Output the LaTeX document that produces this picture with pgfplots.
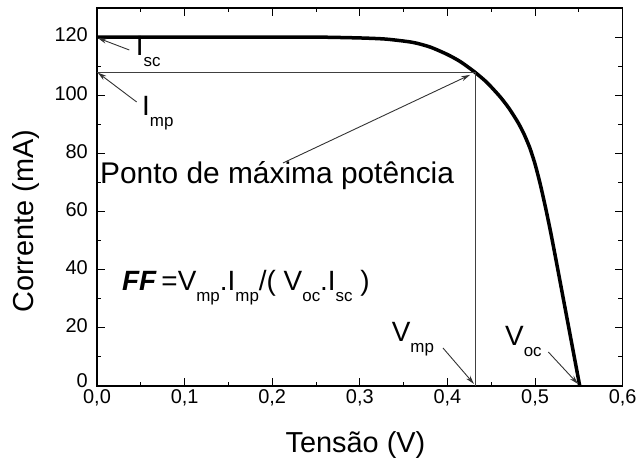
\documentclass[border=0pt]{standalone}
\usepackage{fontspec}
\setmainfont{Liberation Sans}
\usepackage{pgfplots}
\usepackage{pgfplotstable}
\pgfplotsset{compat=1.18}
\usetikzlibrary{arrows.meta}

\pgfplotstableread{
V I
0.000 120.0
0.050 120.0
0.100 120.0
0.150 120.0
0.200 120.0
0.250 120.0
0.300 119.7
0.330 119.3
0.360 118.2
0.380 116.6
0.400 114.0
0.415 111.5
0.431 108.0
0.445 104.4
0.460 99.5
0.470 95.6
0.480 90.9
0.487 86.9
0.494 81.9
0.500 76.3
0.506 69.3
0.512 61.3
0.518 52.6
0.525 41.6
0.532 30.4
0.539 19.2
0.545 9.6
0.551 0.0
}\ivdata

\newcommand{\sub}[1]{\raisebox{-11bp}{\fontsize{17}{17}\selectfont #1}}

\begin{document}
\begin{tikzpicture}
\begin{axis}[
  scale only axis, width=525.7bp, height=378bp,
  xmin=0, xmax=0.6, ymin=0, ymax=130,
  xtick={0,0.1,0.2,0.3,0.4,0.5,0.6}, ytick={0,20,40,60,80,100,120},
  yticklabels={\raisebox{7bp}{0},20,40,60,80,100,120},
  minor x tick num=1, minor y tick num=1,
  tick align=inside,
  major tick length=8bp, minor tick length=4.5bp,
  tick style={line width=1bp, black},
  axis line style={line width=1.3bp, black},
  clip=false,
  /pgf/number format/assume math mode=true,
  xticklabel style={/pgf/number format/.cd, fixed, fixed zerofill, precision=1, use comma, /tikz/.cd,
    font=\fontsize{20}{20}\selectfont, inner sep=0pt, anchor=north, yshift=-3bp},
  yticklabel style={font=\fontsize{20}{20}\selectfont, inner sep=0pt, anchor=east, xshift=-9bp, yshift=2bp},
]
\addplot[line width=3.5bp, black, line join=round, smooth, tension=0.4] table[x=V,y=I]{\ivdata};
\addplot[line width=0.9bp, black!75] coordinates {(0,108) (0.4314,108) (0.4314,0)};

\draw[-{Stealth[length=9bp,width=5bp]}, line width=0.9bp, black!80] (axis cs:0.0369,115.56) -- (axis cs:0.0008,119.7);
\draw[-{Stealth[length=9bp,width=5bp]}, line width=0.9bp, black!80] (axis cs:0.0453,97.67) -- (axis cs:0.0008,107.8);
\draw[-{Stealth[length=9bp,width=5bp]}, line width=0.9bp, black!80] (axis cs:0.2123,76.7) -- (axis cs:0.4258,107.0);
\draw[-{Stealth[length=9bp,width=5bp]}, line width=0.9bp, black!80] (axis cs:0.3949,13.07) -- (axis cs:0.4303,0.69);
\draw[-{Stealth[length=9bp,width=5bp]}, line width=0.9bp, black!80] (axis cs:0.5151,11.7) -- (axis cs:0.549,0.69);

\node[anchor=base west, inner sep=0pt, font=\fontsize{28}{28}\selectfont] at (axis cs:0.0442,113.5) {I\sub{sc}};
\node[anchor=base west, inner sep=0pt, font=\fontsize{28}{28}\selectfont] at (axis cs:0.0514,93.2) {I\sub{mp}};
\node[anchor=base west, inner sep=0pt, font=\fontsize{30}{30}\selectfont] at (axis cs:0.0034,69.5) {Ponto de máxima potência};
\node[anchor=base west, inner sep=0pt, font=\fontsize{28}{28}\selectfont] at (axis cs:0.0285,33.0) {\textbf{\textit{FF}}\,=V\sub{mp}.I\sub{mp}/( V\sub{oc}.I\sub{sc} )};
\node[anchor=base west, inner sep=0pt, font=\fontsize{28}{28}\selectfont] at (axis cs:0.3363,15.2) {V\sub{mp}};
\node[anchor=base west, inner sep=0pt, font=\fontsize{28}{28}\selectfont] at (axis cs:0.4657,13.8) {V\sub{oc}};

\node[anchor=base, inner sep=0pt, font=\fontsize{29}{29}\selectfont] at (axis cs:0.295,-23.04) {Tensão (V)};
\node[rotate=90, anchor=base, inner sep=0pt, font=\fontsize{29}{29}\selectfont] at (axis cs:-0.0730,56.7) {Corrente (mA)};

\coordinate (bl) at (axis cs:-0.1107,-25.79);
\coordinate (tr) at (axis cs:0.6152,132.75);
\end{axis}
\pgfresetboundingbox
\path[use as bounding box] (bl) rectangle (tr);
\end{tikzpicture}
\end{document}
